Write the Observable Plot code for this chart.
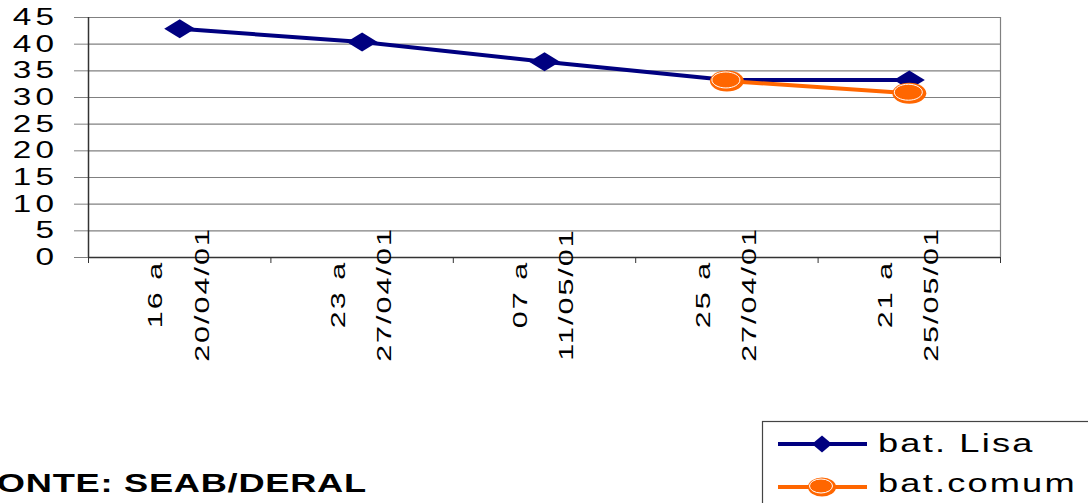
<!DOCTYPE html>
<html><head><meta charset="utf-8">
<script src="https://cdn.jsdelivr.net/npm/d3@7"></script>
<script src="https://cdn.jsdelivr.net/npm/@observablehq/plot@0.6"></script>
<style>
html,body{margin:0;padding:0;background:#fff;overflow:hidden}
#wrap{position:relative;width:1088px;height:503px;overflow:hidden;background:#fff}
#wrap svg{display:block}
#below{position:absolute;left:0;top:410px}
</style></head>
<body><div id="wrap"></div>
<script>
const categories = ["16 a\n20/04/01", "23 a\n27/04/01", "07 a\n11/05/01", "25 a\n27/04/01", "21 a\n25/05/01"];
const seriesNames = ["bat. Lisa", "bat.comum"];
const batLisa = [42.9, 40.4, 36.7, 33.3, 33.3];
const batComum = [null, null, null, 33.1, 30.8];
const yTicks = [0, 5, 10, 15, 20, 25, 30, 35, 40, 45];
const caption = "FONTE: SEAB/DERAL";
const colors = ["#000080", "#FF6600"];

const FONT = "'Liberation Sans', Arial, sans-serif";
const rows = categories.map((c, i) => ({i, cat: c, lisa: batLisa[i], comum: batComum[i]}));
const bounds = d3.range(categories.length + 1).map(i => i - 0.5);

const diamond = {draw(ctx) { ctx.moveTo(-15.5, 0); ctx.lineTo(0, -9.5); ctx.lineTo(15.5, 0); ctx.lineTo(0, 9.5); ctx.closePath(); }};
function ellipseSym(rx, ry) {
  const k = 0.5523;
  return {draw(ctx) {
    ctx.moveTo(rx, 0);
    ctx.bezierCurveTo(rx, ry * k, rx * k, ry, 0, ry);
    ctx.bezierCurveTo(-rx * k, ry, -rx, ry * k, -rx, 0);
    ctx.bezierCurveTo(-rx, -ry * k, -rx * k, -ry, 0, -ry);
    ctx.bezierCurveTo(rx * k, -ry, rx, -ry * k, rx, 0);
    ctx.closePath();
  }};
}

const chart = Plot.plot({
  width: 1088, height: 410,
  marginLeft: 88, marginRight: 88, marginTop: 17, marginBottom: 153,
  x: {type: "linear", domain: [-0.5, categories.length - 0.5], axis: null, label: null},
  y: {domain: [0, 45], axis: null, label: null},
  style: {fontFamily: FONT, background: "white", color: "black", overflow: "visible"},
  marks: [
    Plot.ruleY(yTicks, {stroke: "#808080", strokeWidth: 1.2}),
    Plot.ruleX([categories.length - 0.5], {y1: 0, y2: 45, stroke: "#808080", strokeWidth: 1.2}),
    Plot.axisY(yTicks, {tickSize: 14, tickPadding: 16, stroke: "#808080", fontSize: 23, tickFormat: d => String(d), label: null}),
    Plot.ruleY([0], {stroke: "#333", strokeWidth: 1.5}),
    Plot.ruleX([-0.5], {y1: 0, y2: 45, stroke: "#333", strokeWidth: 1.5}),
    Plot.axisX(bounds, {tickSize: 6, tickFormat: () => "", stroke: "#333", label: null}),
    Plot.text(rows, {x: "i", text: "cat", frameAnchor: "bottom", dx: -9, dy: 37, rotate: -90, textAnchor: "middle", lineAnchor: "middle", lineHeight: 2.2, fontSize: 21, fill: "black"}),
    Plot.line(rows, {x: "i", y: "lisa", stroke: colors[0], strokeWidth: 4}),
    Plot.dot(rows, {x: "i", y: "lisa", symbol: diamond, fill: colors[0], stroke: "none"}),
    Plot.line(rows, {x: "i", y: "comum", stroke: colors[1], strokeWidth: 4}),
    Plot.dot(rows, {x: "i", y: "comum", symbol: ellipseSym(17, 10.5), fill: colors[1], stroke: "none"}),
    Plot.dot(rows, {x: "i", y: "comum", symbol: ellipseSym(14, 8), fill: "none", stroke: "white", strokeWidth: 1, dx: -1, dy: -1})
  ]
});

function stretch(sel, sx, ls) {
  sel.each(function() {
    const x = +this.getAttribute("x") || 0, y = +this.getAttribute("y") || 0;
    const t = this.getAttribute("transform") || "";
    this.setAttribute("transform", `${t} translate(${x},${y}) scale(${sx},1) translate(${-x},${-y})`);
    if (ls != null) this.style.letterSpacing = ls + "px";
  });
}
const cs = d3.select(chart);
stretch(cs.selectAll("text").filter(function() { return (this.getAttribute("transform") || "").includes("rotate"); }), 1.45, 1.4);
stretch(cs.selectAll('g[aria-label="y-axis tick label"] text'), 1.45, 3);

const wrap = document.getElementById("wrap");
wrap.appendChild(chart);

// legend + caption below the chart
const below = d3.create("svg").attr("id", "below").attr("width", 1088).attr("height", 93)
  .style("font-family", FONT).style("overflow", "visible");
below.append("rect").attr("x", 762.5).attr("y", 11.5).attr("width", 400).attr("height", 200)
  .attr("fill", "white").attr("stroke", "#444").attr("stroke-width", 1.2);
const ent = [{y: 34, base: 42}, {y: 77, base: 82}];
seriesNames.forEach((name, k) => {
  const g = below.append("g");
  g.append("line").attr("x1", 778).attr("x2", 867).attr("y1", ent[k].y).attr("y2", ent[k].y)
    .attr("stroke", colors[k]).attr("stroke-width", 4);
  if (k === 0) {
    g.append("path").attr("d", `M812,${ent[k].y}L822,${ent[k].y - 8.5}L832,${ent[k].y}L822,${ent[k].y + 8.5}Z`).attr("fill", colors[k]);
  } else {
    g.append("ellipse").attr("cx", 822).attr("cy", ent[k].y).attr("rx", 14).attr("ry", 9.5).attr("fill", colors[k]);
    g.append("ellipse").attr("cx", 821).attr("cy", ent[k].y - 1).attr("rx", 11.5).attr("ry", 7).attr("fill", "none").attr("stroke", "white").attr("stroke-width", 1);
  }
  g.append("text").attr("x", 878).attr("y", ent[k].base).attr("font-size", 25).attr("fill", "black").text(name);
});
below.append("text").attr("x", -26).attr("y", 82).attr("font-size", 25).attr("font-weight", "bold").attr("fill", "black").text(caption);
stretch(below.selectAll("text"), 1.45, null);
below.selectAll("g text").style("letter-spacing", "1.5px");
below.select(":scope > text").style("letter-spacing", "0.5px");
wrap.appendChild(below.node());
</script>
</body></html>
